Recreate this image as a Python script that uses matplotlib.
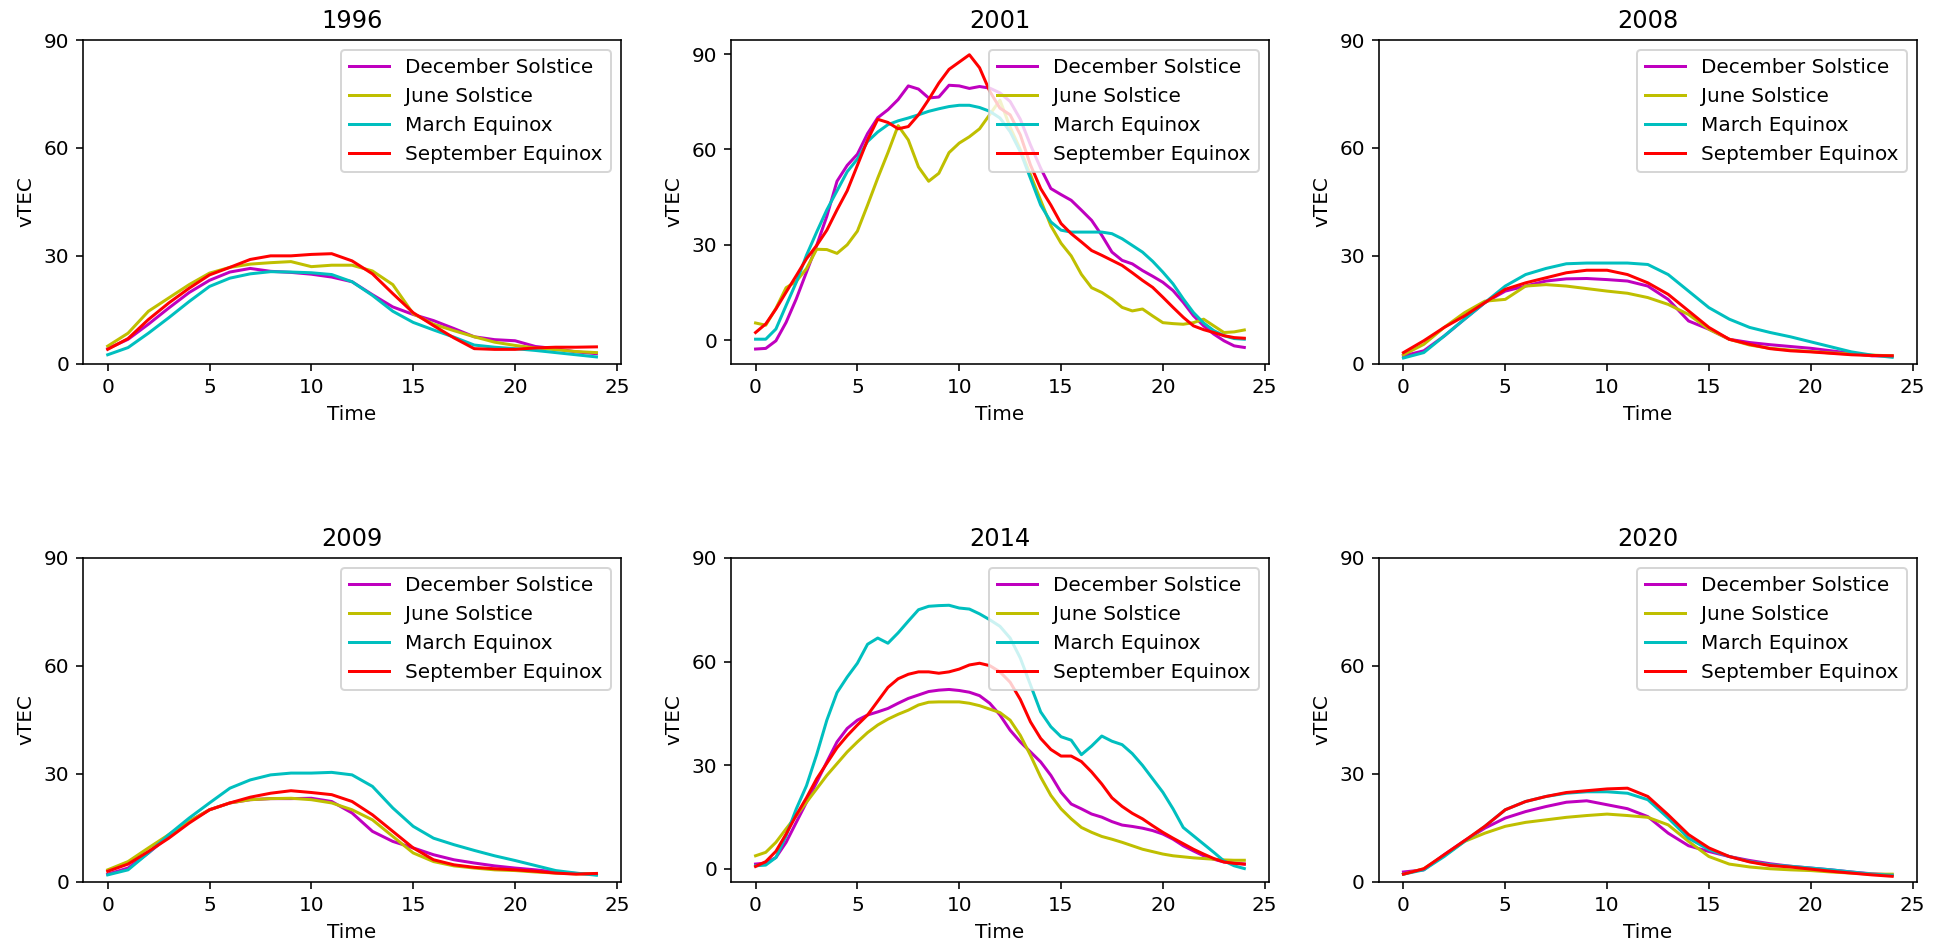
import numpy as np
import matplotlib
matplotlib.use("Agg")
import matplotlib.pyplot as plt

# Local time (hours)
hours = np.arange(0, 25, 1.0)
hours_half = np.arange(0, 24.5, 0.5)

season_labels = ["December Solstice", "June Solstice", "March Equinox", "September Equinox"]
season_colors = ["m", "y", "c", "r"]

# ---- 1996 (hourly) ----
dec_1996 = [4.2, 6.8, 11.0, 15.5, 19.8, 23.2, 25.5, 26.5, 25.7, 25.4, 24.9, 24.1, 22.8,
            19.2, 15.8, 13.7, 12.0, 9.8, 7.5, 6.7, 6.4, 4.8, 4.2, 3.3, 2.8]
jun_1996 = [4.9, 8.5, 14.6, 18.3, 22.0, 25.2, 26.8, 27.7, 28.1, 28.4, 27.0, 27.4, 27.4,
            25.8, 22.0, 13.9, 11.0, 9.2, 7.5, 6.0, 5.1, 4.4, 3.9, 3.4, 3.1]
mar_1996 = [2.5, 4.5, 8.5, 12.8, 17.3, 21.5, 23.8, 25.0, 25.6, 25.5, 25.3, 24.8, 22.8,
            19.0, 14.6, 11.5, 9.4, 7.4, 5.2, 4.6, 4.2, 3.7, 3.1, 2.5, 1.9]
sep_1996 = [4.0, 7.0, 12.3, 16.9, 21.0, 24.7, 26.8, 29.0, 30.0, 30.0, 30.4, 30.6, 28.6,
            25.0, 19.5, 14.2, 10.6, 7.2, 4.2, 4.0, 4.0, 4.4, 4.6, 4.6, 4.7]

# ---- 2001 (half-hourly) ----
dec_2001 = [-2.8, -2.6, -0.2, 5.6, 13.0, 21.4, 29.8, 39.0, 50.0, 55.0,
            58.5, 65.0, 70.0, 72.5, 75.7, 80.0, 79.0, 76.2, 76.5, 80.2,
            80.0, 79.2, 79.8, 79.3, 77.8, 75.1, 69.5, 61.4, 54.1, 47.7,
            45.8, 44.0, 40.9, 37.7, 33.0, 27.7, 25.1, 24.0, 21.9, 20.1,
            18.2, 15.6, 11.9, 7.7, 4.5, 1.9, -0.2, -1.8, -2.3]
jun_2001 = [5.4, 4.7, 10.0, 16.5, 18.5, 22.5, 28.6, 28.5, 27.3, 30.0,
            34.3, 42.5, 51.0, 59.0, 67.5, 63.0, 54.5, 50.0, 52.5, 59.0,
            62.0, 64.0, 66.5, 71.0, 75.5, 67.0, 60.0, 52.0, 44.0, 36.0,
            30.5, 26.5, 20.7, 16.5, 15.0, 12.9, 10.3, 9.2, 9.8, 7.6,
            5.5, 5.2, 5.0, 5.5, 6.6, 4.5, 2.4, 2.6, 3.2]
mar_2001 = [0.3, 0.3, 3.5, 10.9, 18.2, 26.7, 34.0, 41.0, 47.0, 53.0,
            57.0, 62.5, 65.5, 67.8, 69.0, 69.9, 70.9, 72.0, 72.8, 73.5,
            73.9, 73.9, 73.2, 72.0, 69.9, 65.6, 59.3, 50.9, 42.5, 37.2,
            34.6, 34.0, 34.0, 34.0, 34.0, 33.5, 31.9, 29.8, 27.7, 24.8,
            21.4, 17.7, 13.0, 8.7, 5.4, 3.0, 1.4, 0.5, 0.3]
sep_2001 = [2.4, 5.1, 9.8, 15.1, 20.3, 25.6, 29.8, 34.6, 41.0, 47.0,
            55.0, 63.0, 69.5, 68.5, 66.5, 67.2, 70.9, 75.7, 80.9, 85.2,
            87.5, 89.8, 85.7, 78.3, 73.0, 70.9, 64.6, 55.1, 47.7, 42.5,
            36.7, 33.5, 30.9, 28.2, 26.7, 25.1, 23.5, 21.2, 18.8, 16.6,
            13.5, 10.3, 7.2, 4.5, 3.3, 2.4, 1.4, 0.8, 0.6]

# ---- 2008 (hourly) ----
dec_2008 = [2.2, 3.6, 7.7, 12.4, 17.0, 20.2, 21.6, 23.0, 23.6, 23.7, 23.4, 23.0, 21.6,
            17.9, 11.9, 9.6, 6.8, 5.9, 5.3, 4.8, 4.3, 3.6, 2.9, 2.2, 2.2]
jun_2008 = [2.5, 5.4, 10.1, 14.2, 17.4, 17.9, 21.6, 22.0, 21.6, 20.9, 20.2, 19.6, 18.4,
            16.5, 13.7, 9.6, 6.8, 5.2, 4.3, 3.8, 3.4, 3.0, 2.7, 2.4, 2.2]
mar_2008 = [1.6, 3.1, 7.7, 12.4, 17.0, 21.6, 24.8, 26.5, 27.8, 28.0, 28.0, 28.0, 27.6,
            24.8, 20.2, 15.6, 12.4, 10.1, 8.7, 7.5, 6.1, 4.7, 3.3, 2.4, 1.8]
sep_2008 = [3.1, 6.4, 10.1, 13.3, 17.0, 20.7, 22.5, 23.9, 25.3, 26.0, 26.0, 24.8, 22.5,
            19.3, 14.7, 10.1, 6.8, 5.4, 4.2, 3.6, 3.3, 2.9, 2.5, 2.3, 2.2]

# ---- 2009 (hourly) ----
dec_2009 = [2.1, 3.8, 8.0, 12.6, 16.8, 20.0, 21.9, 22.8, 23.1, 23.1, 23.2, 22.3, 19.1,
            14.0, 11.2, 9.4, 7.5, 6.1, 5.2, 4.4, 3.8, 3.3, 2.7, 2.3, 2.1]
jun_2009 = [3.3, 5.6, 9.4, 13.1, 16.8, 20.0, 21.9, 22.8, 23.1, 23.2, 22.8, 21.9, 20.0,
            17.2, 12.6, 8.0, 5.6, 4.4, 3.8, 3.3, 3.1, 2.7, 2.4, 2.2, 2.2]
mar_2009 = [1.9, 3.3, 8.0, 13.1, 17.7, 21.9, 26.0, 28.3, 29.7, 30.2, 30.2, 30.4, 29.7,
            26.5, 20.5, 15.4, 12.1, 10.3, 8.7, 7.2, 5.9, 4.5, 3.1, 2.4, 1.8]
sep_2009 = [2.9, 4.9, 8.4, 12.1, 16.3, 20.0, 21.9, 23.5, 24.6, 25.3, 24.8, 24.2, 22.3,
            18.6, 14.0, 9.4, 6.1, 4.7, 4.0, 3.6, 3.3, 2.9, 2.4, 2.1, 2.3]

# ---- 2014 (half-hourly) ----
dec_2014 = [1.3, 1.6, 3.2, 7.6, 13.4, 19.2, 25.0, 30.9, 36.7, 40.6,
            43.0, 44.5, 45.4, 46.4, 47.9, 49.3, 50.3, 51.3, 51.7, 51.9,
            51.6, 51.1, 50.1, 47.9, 44.5, 40.1, 36.7, 33.8, 30.9, 27.0,
            22.1, 18.7, 17.3, 15.8, 14.9, 13.6, 12.6, 12.2, 11.7, 11.0,
            10.0, 8.5, 6.6, 5.1, 3.7, 2.7, 1.9, 1.6, 1.3]
jun_2014 = [3.7, 4.7, 7.6, 11.5, 15.3, 19.2, 23.1, 27.0, 30.4, 33.8,
            36.7, 39.4, 41.6, 43.3, 44.7, 45.9, 47.4, 48.2, 48.3, 48.3,
            48.3, 47.9, 47.2, 46.2, 45.2, 43.0, 38.6, 32.8, 26.5, 21.2,
            17.3, 14.4, 11.9, 10.5, 9.3, 8.5, 7.6, 6.6, 5.6, 4.9,
            4.2, 3.7, 3.4, 3.1, 2.9, 2.7, 2.5, 2.4, 2.4]
mar_2014 = [0.8, 1.0, 3.2, 9.5, 17.3, 24.0, 33.0, 43.0, 51.0, 55.5,
            59.5, 65.0, 66.8, 65.3, 68.3, 71.7, 75.0, 76.0, 76.2, 76.3,
            75.5, 75.2, 73.8, 72.1, 70.2, 66.8, 61.0, 53.2, 45.4, 41.1,
            38.2, 37.2, 33.0, 35.5, 38.4, 36.9, 35.9, 33.3, 29.9, 26.0,
            22.1, 17.3, 11.9, 9.5, 7.1, 4.7, 2.2, 0.8, 0.0]
sep_2014 = [0.6, 2.0, 5.0, 10.0, 15.5, 20.5, 26.0, 30.5, 35.0, 38.5,
            41.6, 44.5, 48.5, 52.5, 55.0, 56.3, 57.0, 57.0, 56.6, 57.0,
            57.8, 59.0, 59.5, 58.8, 57.0, 54.0, 49.0, 42.5, 37.7, 34.5,
            32.6, 32.6, 31.0, 28.0, 24.5, 20.5, 18.0, 16.0, 14.4, 12.4,
            10.5, 8.8, 7.2, 5.6, 4.2, 2.9, 1.9, 1.5, 1.3]

# ---- 2020 (hourly) ----
dec_2020 = [2.7, 3.3, 7.5, 11.4, 14.9, 17.7, 19.5, 20.9, 22.1, 22.5, 21.4, 20.3, 18.1,
            13.5, 10.0, 8.4, 7.0, 5.9, 5.0, 4.3, 3.8, 3.3, 2.7, 2.2, 1.9]
jun_2020 = [2.1, 3.6, 7.3, 11.2, 13.5, 15.4, 16.5, 17.2, 17.9, 18.4, 18.8, 18.4, 17.9,
            15.8, 11.2, 7.0, 4.9, 4.1, 3.6, 3.3, 3.1, 2.7, 2.4, 2.1, 2.1]
mar_2020 = [2.1, 3.3, 7.0, 11.2, 15.4, 20.0, 22.3, 23.7, 24.6, 25.0, 25.0, 24.6, 22.8,
            17.7, 12.1, 8.9, 7.0, 5.6, 4.7, 4.3, 3.8, 3.3, 2.7, 2.1, 1.8]
sep_2020 = [2.1, 3.6, 7.5, 11.4, 15.4, 20.0, 22.3, 23.7, 24.8, 25.3, 25.8, 26.0, 23.7,
            18.6, 13.1, 9.4, 7.0, 5.5, 4.5, 4.1, 3.5, 2.9, 2.4, 1.9, 1.5]

years = ["1996", "2001", "2008", "2009", "2014", "2020"]
panels = [
    (hours, [dec_1996, jun_1996, mar_1996, sep_1996]),
    (hours_half, [dec_2001, jun_2001, mar_2001, sep_2001]),
    (hours, [dec_2008, jun_2008, mar_2008, sep_2008]),
    (hours, [dec_2009, jun_2009, mar_2009, sep_2009]),
    (hours_half, [dec_2014, jun_2014, mar_2014, sep_2014]),
    (hours, [dec_2020, jun_2020, mar_2020, sep_2020]),
]
vtec_ticks = [0, 30, 60, 90]

fig, axes = plt.subplots(2, 3, figsize=(1936 / 144, 942 / 144), dpi=144)
fig.subplots_adjust(left=0.043, right=0.990, top=0.9575, bottom=0.064,
                    wspace=0.205, hspace=0.60)

for ax, year, (t, series) in zip(axes.flat, years, panels):
    for values, label, color in zip(series, season_labels, season_colors):
        ax.plot(t, values, color=color, label=label)
    ax.set_yticks(vtec_ticks)
    ax.set_title(year)
    ax.set_xlabel("Time")
    ax.set_ylabel("vTEC")
    ax.legend(loc="upper right")

fig.savefig("out.png", dpi=144)
